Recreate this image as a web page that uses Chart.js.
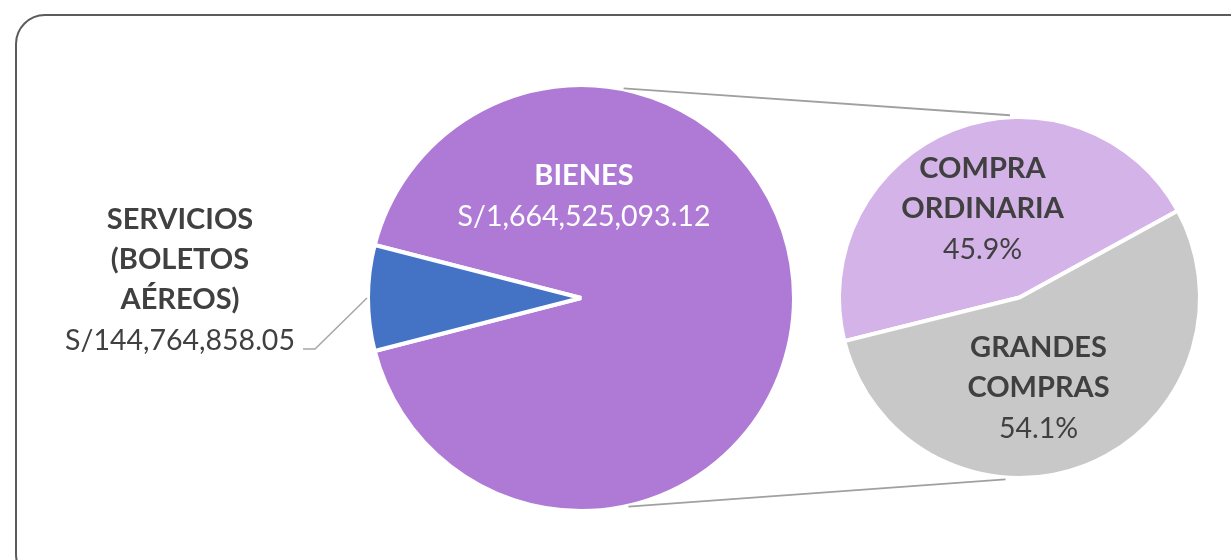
<!DOCTYPE html>
<html>
<head>
<meta charset="utf-8">
<script src="https://cdn.jsdelivr.net/npm/chart.js@4.4.0/dist/chart.umd.min.js"></script>
<style>
  html, body { margin: 0; padding: 0; background: #fff; }
  #wrap { position: relative; width: 1231px; height: 560px; overflow: hidden; }
  #frame {
    position: absolute; left: 15px; top: 14px; width: 1260px; height: 570px;
    border: 2px solid #5b5b5b; border-radius: 30px; box-sizing: border-box;
  }
  canvas { position: absolute; left: 0; top: 0; }
</style>
</head>
<body>
<div id="wrap">
  <div id="frame"></div>
  <canvas id="mainPie" width="1231" height="560"></canvas>
  <canvas id="subPie" width="1231" height="560"></canvas>
</div>
<script>
// datos del grafico principal
var mainNames = [["BIENES"], ["SERVICIOS", "(BOLETOS", "AÉREOS)"]];
var mainValues = [1664525093.12, 144764858.05];
var mainColors = ["#AF7AD6", "#4472C4"];

// desglose de BIENES
var subNames = [["COMPRA", "ORDINARIA"], ["GRANDES", "COMPRAS"]];
var subPercents = [45.9, 54.1];
var subColors = ["#D4B3E8", "#C8C8C8"];

var FONT = "Lato, 'Open Sans', sans-serif";
var TEXT_DARK = "#404040";

function money(v) {
  return "S/" + v.toLocaleString("en-US", { minimumFractionDigits: 2, maximumFractionDigits: 2 });
}

function drawBlock(ctx, lines, valueText, x, y, color) {
  ctx.save();
  ctx.fillStyle = color;
  ctx.textAlign = "center";
  ctx.textBaseline = "middle";
  ctx.font = "bold 29px " + FONT;
  for (var i = 0; i < lines.length; i++) {
    ctx.fillText(lines[i], x, y + i * 40);
  }
  ctx.font = "28.5px " + FONT;
  ctx.fillText(valueText, x, y + lines.length * 40 + 1);
  ctx.restore();
}

// posiciones de las etiquetas respecto al centro de cada pie
var mainLabelPos = [{ dx: 3, dy: -122, color: "#FFFFFF" }, { dx: -401, dy: -78, color: TEXT_DARK }];
var subLabelPos = [{ dx: -37, dy: -129, color: TEXT_DARK }, { dx: 19, dy: 50, color: TEXT_DARK }];

var mainLabels = {
  id: "mainLabels",
  afterDatasetsDraw: function (chart) {
    var ctx = chart.ctx;
    var arcs = chart.getDatasetMeta(0).data;
    var cx = arcs[0].x, cy = arcs[0].y, r = arcs[0].outerRadius;

    // linea guia de SERVICIOS
    var blue = arcs[1];
    var mid = (blue.startAngle + blue.endAngle) / 2;
    var ex = cx + (r + 1) * Math.cos(mid), ey = cy + (r + 1) * Math.sin(mid);
    ctx.save();
    ctx.strokeStyle = "#A6A6A6";
    ctx.lineWidth = 1.5;
    ctx.beginPath();
    ctx.moveTo(303, cy + 51);
    ctx.lineTo(315, cy + 51);
    ctx.lineTo(ex, ey);
    ctx.stroke();
    ctx.restore();

    for (var i = 0; i < mainNames.length; i++) {
      var p = mainLabelPos[i];
      drawBlock(ctx, mainNames[i], money(mainValues[i]), cx + p.dx, cy + p.dy, p.color);
    }
  }
};

var subLabels = {
  id: "subLabels",
  afterDatasetsDraw: function (chart) {
    var ctx = chart.ctx;
    var arcs = chart.getDatasetMeta(0).data;
    var cx = arcs[0].x, cy = arcs[0].y, r = arcs[0].outerRadius;

    // lineas que unen BIENES con su desglose
    var m = mainChart.getDatasetMeta(0).data[0];
    var links = [[11.5, -3], [167.2, 184.4]];
    ctx.save();
    ctx.strokeStyle = "#A0A0A0";
    ctx.lineWidth = 1.8;
    links.forEach(function (l) {
      var a1 = (l[0] - 90) * Math.PI / 180, a2 = (l[1] - 90) * Math.PI / 180;
      ctx.beginPath();
      ctx.moveTo(m.x + (m.outerRadius + 1) * Math.cos(a1), m.y + (m.outerRadius + 1) * Math.sin(a1));
      ctx.lineTo(cx + (r + 2) * Math.cos(a2), cy + (r + 2) * Math.sin(a2));
      ctx.stroke();
    });
    ctx.restore();

    for (var i = 0; i < subNames.length; i++) {
      var p = subLabelPos[i];
      drawBlock(ctx, subNames[i], subPercents[i].toFixed(1) + "%", cx + p.dx, cy + p.dy, p.color);
    }
  }
};

var mainChart = new Chart(document.getElementById("mainPie"), {
  type: "pie",
  data: {
    labels: mainNames.map(function (n) { return n.join(" "); }),
    datasets: [{
      data: mainValues,
      backgroundColor: mainColors,
      borderColor: "#FFFFFF",
      borderWidth: 4,
      hoverOffset: 0
    }]
  },
  options: {
    responsive: false,
    animation: false,
    rotation: 284.4,
    layout: { padding: { left: 366, right: 435, top: 83, bottom: 47 } },
    plugins: { legend: { display: false }, tooltip: { enabled: false } }
  },
  plugins: [mainLabels]
});

var subChart = new Chart(document.getElementById("subPie"), {
  type: "pie",
  data: {
    labels: subNames.map(function (n) { return n.join(" "); }),
    datasets: [{
      data: subPercents,
      backgroundColor: subColors,
      borderColor: "#FFFFFF",
      borderWidth: 4,
      hoverOffset: 0
    }]
  },
  options: {
    responsive: false,
    animation: false,
    rotation: 256,
    layout: { padding: { left: 837, right: 29, top: 115, bottom: 80 } },
    plugins: { legend: { display: false }, tooltip: { enabled: false } }
  },
  plugins: [subLabels]
});
</script>
</body>
</html>
